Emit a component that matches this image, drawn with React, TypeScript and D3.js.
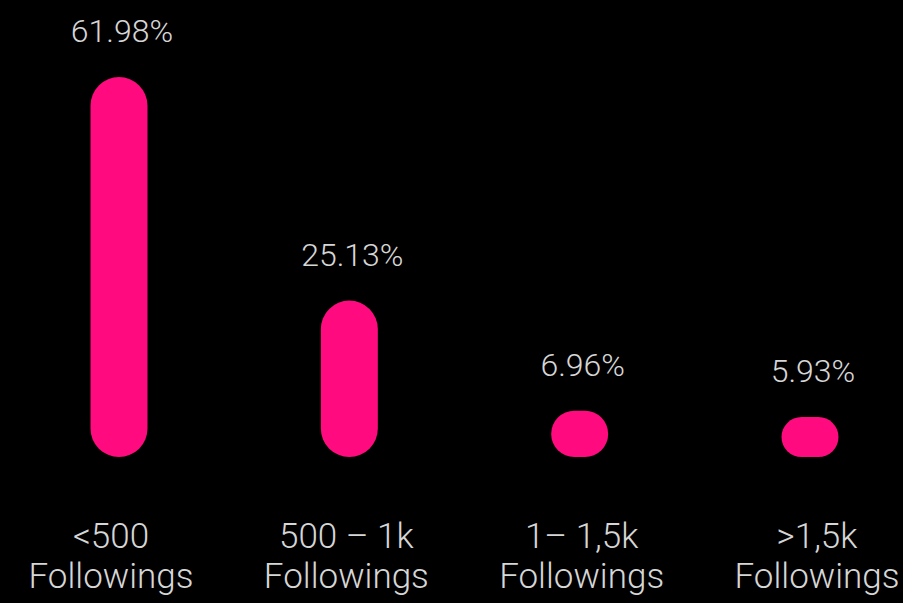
import React from "react";
import * as d3 from "d3";

const categories = ["<500", "500 – 1k", "1– 1,5k", ">1,5k"];
const subLabels = ["Followings", "Followings", "Followings", "Followings"];
const values = [61.98, 25.13, 6.96, 5.93];
const valueLabels = ["61.98%", "25.13%", "6.96%", "5.93%"];

const W = 903;
const H = 603;
const BASE = 457;
const BAR_W = 57;
const PINK = "#ff0a7f";
const TEXT = "#d6d6d6";
const FONT = "'Roboto Light', Roboto, 'Noto Sans', sans-serif";

export default function App() {
  const xBar = d3.scalePoint<string>().domain(categories).range([119, 810]);
  const xLabel = d3.scalePoint<string>().domain(categories).range([111, 817]);
  const y = d3.scaleLinear().domain([0, 62]).range([BASE - 4, 77]);

  return (
    <svg
      width={W}
      height={H}
      style={{ position: "absolute", left: 0, top: 0, display: "block" }}
    >
      <rect x={0} y={0} width={W} height={H} fill="#000" />
      {categories.map((c, i) => {
        const cx = xBar(c)!;
        const top = y(values[i]);
        const h = BASE - top;
        const r = Math.min(BAR_W / 2, h / 2);
        return (
          <g key={c}>
            <rect
              x={cx - BAR_W / 2}
              y={top}
              width={BAR_W}
              height={h}
              rx={r}
              ry={r}
              fill={PINK}
            />
            <text
              x={cx + 3}
              y={top - 35}
              textAnchor="middle"
              fill={TEXT}
              fontFamily={FONT}
              fontWeight={300}
              fontSize={32}
            >
              {valueLabels[i]}
            </text>
            <text
              x={xLabel(c)!}
              y={548}
              textAnchor="middle"
              fill={TEXT}
              fontFamily={FONT}
              fontWeight={300}
              fontSize={35}
            >
              {c}
            </text>
            <text
              x={xLabel(c)!}
              y={588}
              textAnchor="middle"
              fill={TEXT}
              fontFamily={FONT}
              fontWeight={300}
              fontSize={35}
            >
              {subLabels[i]}
            </text>
          </g>
        );
      })}
    </svg>
  );
}
